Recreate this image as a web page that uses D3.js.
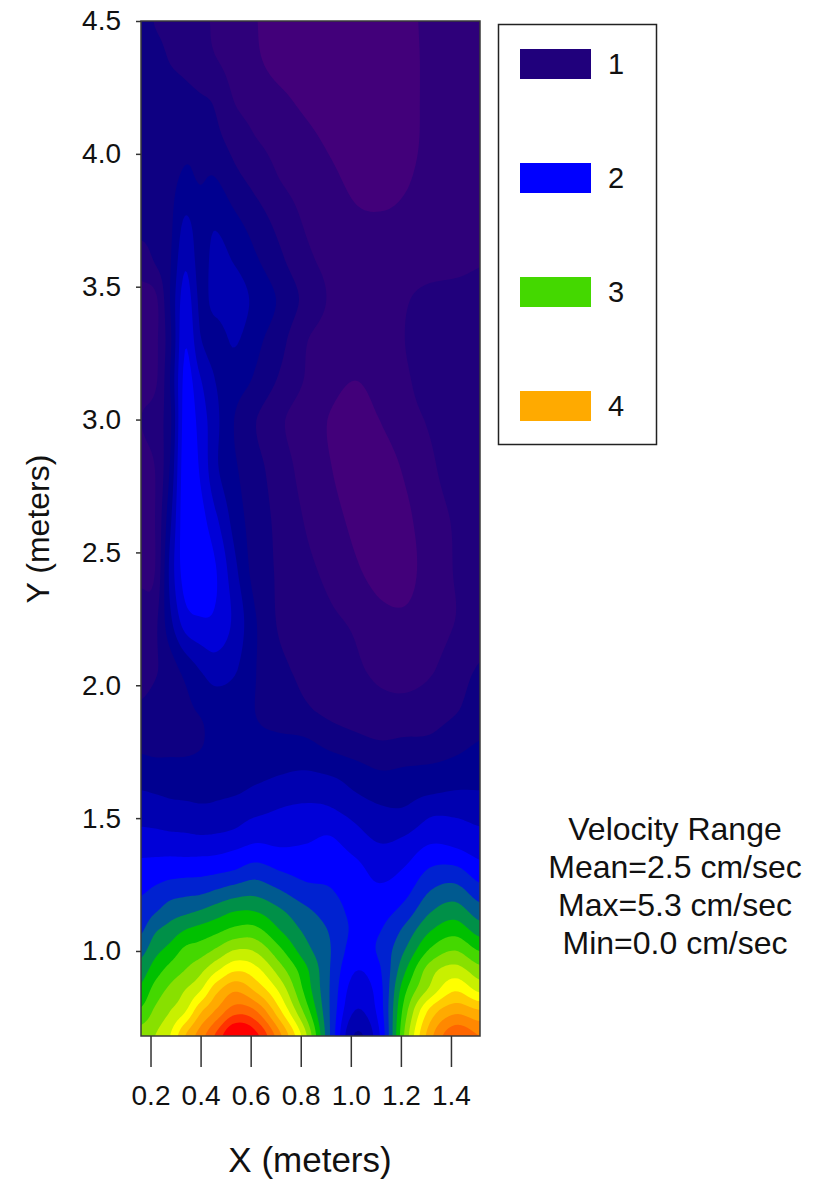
<!DOCTYPE html>
<html>
<head>
<meta charset="utf-8">
<script src="https://cdn.jsdelivr.net/npm/d3@7"></script>
<style>
  html, body { margin: 0; padding: 0; background: #fff; }
  svg { display: block; }
  text { font-family: "Liberation Sans", Arial, sans-serif; fill: #111; }
</style>
</head>
<body>
<script>
// grid, top row first
const xMeters = [0.162, 0.218, 0.278, 0.338, 0.398, 0.458, 0.537, 0.617, 0.717, 0.817, 0.917, 1.017, 1.116, 1.216, 1.316, 1.416, 1.516];
const yMeters = [4.5, 4.353, 4.203, 4.053, 3.902, 3.75, 3.6, 3.45, 3.3, 3.147, 2.996, 2.808, 2.62, 2.432, 2.244, 2.056, 1.906,
  1.793, 1.68, 1.605, 1.53, 1.455, 1.38, 1.305, 1.23, 1.154, 1.079, 1.004, 0.929, 0.853, 0.778, 0.68];
const velocity = [
  [1.2, 1.09, 1.05, .98, .93, .88, .8, .71, .62, .58, .56, .55, .58, .64, .75, .8, .82],
  [1.25, 1.18, 1.09, 1.03, .96, .91, .82, .73, .63, .58, .55, .54, .56, .62, .75, .8, .82],
  [1.25, 1.25, 1.22, 1.18, 1.13, 1.07, .89, .82, .74, .66, .6, .56, .56, .62, .75, .8, .82],
  [1.22, 1.2, 1.24, 1.27, 1.27, 1.16, 1.02, .91, .83, .75, .67, .6, .58, .63, .75, .8, .82],
  [1.2, 1.2, 1.25, 1.33, 1.29, 1.31, 1.16, 1.04, .9, .82, .74, .66, .62, .68, .76, .8, .82],
  [1.2, 1.2, 1.26, 1.52, 1.4, 1.47, 1.34, 1.2, 1.03, .88, .8, .73, .72, .74, .78, .8, .82],
  [.98, 1.12, 1.28, 1.66, 1.42, 1.56, 1.48, 1.33, 1.14, .95, .85, .8, .78, .79, .8, .82, .88],
  [.85, .85, 1.3, 1.8, 1.46, 1.56, 1.6, 1.45, 1.27, 1.05, .88, .8, .78, .88, .97, 1.0, 1.0],
  [.85, .85, 1.25, 1.88, 1.52, 1.42, 1.52, 1.36, 1.17, .92, .82, .78, .78, .9, 1.0, 1.02, 1.0],
  [.85, .86, 1.3, 1.96, 1.72, 1.5, 1.4, 1.27, 1.07, .89, .76, .7, .76, .87, .98, 1.0, 1.0],
  [.9, 1.0, 1.25, 2.0, 1.82, 1.56, 1.29, 1.11, .93, .8, .69, .63, .7, .82, .92, 1.0, 1.0],
  [.84, .9, 1.32, 2.03, 1.88, 1.55, 1.33, 1.17, 1.0, .83, .71, .62, .6, .72, .86, .98, 1.0],
  [.84, .9, 1.45, 2.04, 1.98, 1.75, 1.42, 1.2, 1.05, .89, .77, .66, .6, .66, .8, .92, 1.0],
  [.85, .9, 1.55, 2.0, 2.04, 1.92, 1.55, 1.22, 1.07, .95, .85, .73, .63, .64, .78, .91, 1.0],
  [1.0, 1.05, 1.45, 1.8, 1.88, 1.86, 1.65, 1.32, 1.07, 1.0, .93, .87, .76, .73, .8, .9, 1.0],
  [1.02, 1.08, 1.2, 1.36, 1.5, 1.6, 1.52, 1.31, 1.15, 1.05, .98, .93, .86, .83, .88, 1.0, 1.12],
  [1.13, 1.17, 1.22, 1.26, 1.32, 1.38, 1.36, 1.3, 1.22, 1.13, 1.05, 1.0, .96, .96, 1.0, 1.08, 1.2],
  [1.22, 1.2, 1.22, 1.24, 1.28, 1.35, 1.35, 1.33, 1.33, 1.32, 1.22, 1.15, 1.1, 1.12, 1.13, 1.22, 1.3],
  [1.4, 1.38, 1.37, 1.36, 1.37, 1.4, 1.4, 1.42, 1.47, 1.5, 1.45, 1.37, 1.3, 1.32, 1.34, 1.37, 1.4],
  [1.5, 1.48, 1.46, 1.45, 1.45, 1.46, 1.47, 1.53, 1.59, 1.62, 1.61, 1.49, 1.41, 1.42, 1.46, 1.5, 1.5],
  [1.61, 1.59, 1.56, 1.55, 1.53, 1.54, 1.59, 1.65, 1.71, 1.74, 1.72, 1.62, 1.53, 1.52, 1.65, 1.65, 1.61],
  [1.72, 1.71, 1.69, 1.68, 1.66, 1.67, 1.71, 1.8, 1.8, 1.83, 1.87, 1.74, 1.62, 1.66, 1.78, 1.78, 1.72],
  [1.85, 1.85, 1.85, 1.84, 1.84, 1.85, 1.9, 1.96, 1.92, 1.93, 1.96, 1.86, 1.74, 1.8, 1.95, 1.92, 1.83],
  [1.97, 1.99, 2.01, 2.02, 2.03, 2.05, 2.1, 2.19, 2.09, 2.03, 2.04, 1.96, 1.84, 1.92, 2.12, 2.15, 1.98],
  [2.07, 2.13, 2.2, 2.23, 2.24, 2.3, 2.38, 2.42, 2.3, 2.16, 2.11, 2.0, 1.93, 2.03, 2.29, 2.37, 2.17],
  [2.17, 2.27, 2.39, 2.44, 2.5, 2.58, 2.68, 2.68, 2.52, 2.34, 2.2, 2.04, 2.02, 2.17, 2.47, 2.59, 2.38],
  [2.27, 2.47, 2.58, 2.7, 2.77, 2.84, 2.95, 2.96, 2.7, 2.46, 2.28, 2.06, 2.09, 2.35, 2.68, 2.82, 2.61],
  [2.43, 2.63, 2.77, 2.94, 3.0, 3.12, 3.3, 3.27, 2.94, 2.58, 2.31, 2.01, 2.14, 2.5, 2.92, 3.09, 2.88],
  [2.6, 2.8, 2.97, 3.1, 3.24, 3.45, 3.67, 3.57, 3.19, 2.76, 2.3, 1.91, 2.08, 2.67, 3.2, 3.38, 3.17],
  [2.75, 2.98, 3.15, 3.3, 3.48, 3.82, 4.07, 3.87, 3.45, 2.85, 2.29, 1.8, 2.03, 2.85, 3.35, 3.68, 3.45],
  [2.93, 3.13, 3.29, 3.47, 3.84, 4.1, 4.4, 4.3, 3.72, 3.03, 2.29, 1.7, 2.0, 3.0, 3.74, 4.03, 3.9],
  [3.2, 3.3, 3.5, 3.9, 4.2, 4.52, 4.95, 4.78, 4.15, 3.37, 2.3, 1.48, 1.9, 3.14, 4.02, 4.45, 4.3]
];
const levels = [0.7, 0.9, 1.1, 1.3, 1.5, 1.7, 1.9, 2.1, 2.3, 2.5, 2.7, 2.9, 3.1, 3.3, 3.5, 3.7, 3.9, 4.1, 4.3, 4.5, 4.7];
const bandColors = ["#42007a", "#2e007a", "#20007c", "#0e0082", "#000090", "#0000b0", "#0000d8", "#0000ff", "#0022d0", "#005a90", "#009048",
  "#00c000", "#44d800", "#88e000", "#c8f000", "#ffff00", "#ffcc00", "#ffaa00", "#ff8800", "#ff6600", "#ff3300", "#ff0000"];
const xTicks = [0.2, 0.4, 0.6, 0.8, 1.0, 1.2, 1.4];
const yTicks = [1.0, 1.5, 2.0, 2.5, 3.0, 3.5, 4.0, 4.5];
const legendLabels = ["1", "2", "3", "4"];
const legendColors = ["#20007c", "#0000ff", "#44d800", "#ffaa00"];
const notes = ["Velocity Range", "Mean=2.5 cm/sec", "Max=5.3 cm/sec", "Min=0.0 cm/sec"];

const width = 813, height = 1179;
const plot = { left: 141, right: 480, top: 21, bottom: 1036 };

const x = d3.scaleLinear().domain([0.162, 1.516]).range([plot.left, plot.right]);
const y = d3.scaleLinear().domain([0.68, 4.5]).range([plot.bottom, plot.top]);

const svg = d3.select("body").append("svg").attr("width", width).attr("height", height);

// smooth the grid a bit, the original is a fine interpolated surface
const fine = 8;
const nc = xMeters.length, nr = yMeters.length;
const w = (nc - 1) * fine + 1, h = (nr - 1) * fine + 1;

function cr(p0, p1, p2, p3, t) {
  return 0.5 * (2 * p1 + (p2 - p0) * t + (2 * p0 - 5 * p1 + 4 * p2 - p3) * t * t + (3 * p1 - p0 - 3 * p2 + p3) * t * t * t);
}
function cell(r, c) {
  return velocity[Math.max(0, Math.min(nr - 1, r))][Math.max(0, Math.min(nc - 1, c))];
}
const surface = new Array(w * h);
for (let j = 0; j < h; j++) {
  const r = Math.min(Math.floor(j / fine), nr - 2), tr = j / fine - r;
  for (let i = 0; i < w; i++) {
    const c = Math.min(Math.floor(i / fine), nc - 2), tc = i / fine - c;
    const col = [-1, 0, 1, 2].map(d => cr(cell(r + d, c - 1), cell(r + d, c), cell(r + d, c + 1), cell(r + d, c + 2), tc));
    surface[j * w + i] = cr(col[0], col[1], col[2], col[3], tr);
  }
}

const colToX = d3.scaleLinear().domain(d3.range(nc)).range(xMeters).clamp(false);
const rowToY = d3.scaleLinear().domain(d3.range(nr)).range(yMeters).clamp(false);
const path = d3.geoPath(d3.geoTransform({
  point(px, py) {
    this.stream.point(x(colToX((px - 0.5) / fine)), y(rowToY((py - 0.5) / fine)));
  }
}));

svg.append("clipPath").attr("id", "plot-clip").append("rect")
  .attr("x", plot.left).attr("y", plot.top)
  .attr("width", plot.right - plot.left).attr("height", plot.bottom - plot.top);

const g = svg.append("g").attr("clip-path", "url(#plot-clip)");
g.append("rect")
  .attr("x", plot.left).attr("y", plot.top)
  .attr("width", plot.right - plot.left).attr("height", plot.bottom - plot.top)
  .attr("fill", bandColors[0]);

const contours = d3.contours().size([w, h]).thresholds(levels)(surface);
g.selectAll("path")
  .data(contours)
  .enter().append("path")
    .attr("d", path)
    .attr("fill", (d, i) => bandColors[i + 1]);

// frame
svg.append("rect")
  .attr("x", plot.left).attr("y", plot.top)
  .attr("width", plot.right - plot.left).attr("height", plot.bottom - plot.top)
  .attr("fill", "none")
  .attr("stroke", "#3a3a3a")
  .attr("stroke-width", 1.5);

// axes
const xAxis = svg.append("g")
  .attr("transform", `translate(0,${plot.bottom})`)
  .call(d3.axisBottom(x).tickValues(xTicks).tickFormat(d3.format(".1f")).tickSize(31).tickPadding(18));
const yAxis = svg.append("g")
  .attr("transform", `translate(${plot.left},0)`)
  .call(d3.axisLeft(y).tickValues(yTicks).tickFormat(d3.format(".1f")).tickSize(5).tickPadding(15));
[xAxis, yAxis].forEach(a => {
  a.select(".domain").remove();
  a.selectAll("line").attr("stroke", "#333").attr("stroke-width", 1.5);
  a.selectAll("text").style("font-size", "28px").attr("fill", "#111")
    .style("font-family", '"Liberation Sans", Arial, sans-serif');
});

svg.append("text")
  .attr("x", 310).attr("y", 1172)
  .attr("text-anchor", "middle")
  .style("font-size", "35px")
  .text("X (meters)");
svg.append("text")
  .attr("transform", "translate(49,529) rotate(-90)")
  .attr("text-anchor", "middle")
  .style("font-size", "32px")
  .text("Y (meters)");

// legend
const legendY = d3.scalePoint().domain(legendLabels).range([64, 406]);
const legend = svg.append("g");
legend.append("rect")
  .attr("x", 498.5).attr("y", 24.5)
  .attr("width", 158).attr("height", 420)
  .attr("fill", "#fff").attr("stroke", "#222").attr("stroke-width", 1.5);
legend.selectAll(".swatch")
  .data(legendLabels)
  .enter().append("rect")
    .attr("class", "swatch")
    .attr("x", 520).attr("y", d => legendY(d) - 15)
    .attr("width", 71).attr("height", 30)
    .attr("fill", (d, i) => legendColors[i]);
legend.selectAll(".label")
  .data(legendLabels)
  .enter().append("text")
    .attr("class", "label")
    .attr("x", 608).attr("y", d => legendY(d) + 10)
    .style("font-size", "29px")
    .text(d => d);

// velocity note
svg.selectAll(".note")
  .data(notes)
  .enter().append("text")
    .attr("class", "note")
    .attr("x", 675).attr("y", (d, i) => 840 + i * 38)
    .attr("text-anchor", "middle")
    .style("font-size", "32px")
    .text(d => d);
</script>
</body>
</html>
